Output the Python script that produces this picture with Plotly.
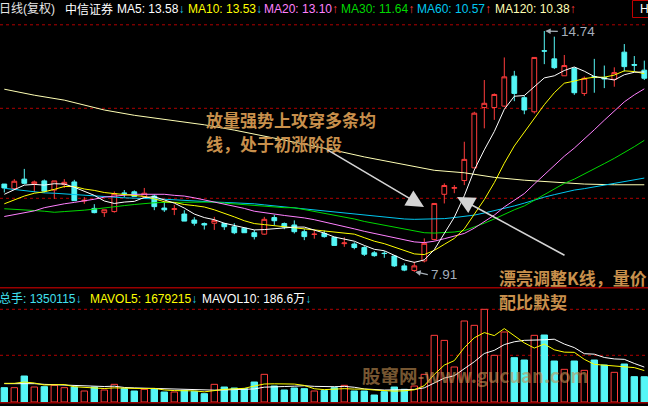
import plotly.graph_objects as go

# ---------------- data ----------------
idx = list(range(65))

opens = [10.40, 10.27, 10.54, 10.41, 10.49, 10.23, 10.39, 10.46, 9.92, 9.71,
         9.59, 9.62, 10.15, 10.18, 10.04, 10.06, 9.72, 9.68, 9.55, 9.38,
         9.28, 9.29, 9.28, 9.19, 9.15, 9.02, 8.98, 9.45, 9.28, 9.24,
         9.05, 8.97, 9.00, 8.89, 8.71, 8.70, 8.60, 8.45, 8.44, 8.36,
         8.08, 7.95, 8.22, 8.83, 10.11, 10.28, 10.50, 10.86, 12.57, 12.57,
         12.61, 13.46, 12.85, 12.45, 14.18, 13.95, 13.47, 13.68, 12.97, 13.45,
         13.42, 13.37, 14.14, 13.79, 13.63]
highs = [10.40, 10.54, 10.83, 10.50, 10.53, 10.49, 10.54, 10.52, 10.03, 9.83,
         9.67, 10.19, 10.23, 10.22, 10.29, 10.10, 9.90, 9.81, 9.66, 9.46,
         9.31, 9.47, 9.30, 9.29, 9.15, 9.10, 9.47, 9.53, 9.31, 9.37,
         9.12, 9.08, 9.08, 8.89, 8.89, 8.75, 8.64, 8.50, 8.50, 8.38,
         8.15, 8.20, 8.86, 9.85, 10.42, 10.37, 11.60, 12.45, 13.35, 12.97,
         13.99, 13.61, 12.90, 13.99, 14.74, 14.58, 14.06, 13.71, 13.45, 13.95,
         13.76, 13.71, 14.37, 14.03, 13.90]
lows = [10.16, 10.27, 10.39, 10.17, 10.16, 9.98, 10.29, 9.93, 9.84, 9.57,
        9.47, 9.59, 10.02, 10.05, 10.04, 9.66, 9.61, 9.52, 9.35, 9.22,
        9.11, 9.10, 9.10, 8.98, 9.02, 8.83, 8.96, 9.24, 9.12, 9.00,
        8.81, 8.85, 8.88, 8.66, 8.62, 8.55, 8.36, 8.34, 8.31, 8.05,
        7.93, 7.91, 8.18, 8.80, 9.85, 10.14, 10.37, 10.85, 11.98, 12.22,
        12.59, 12.75, 12.38, 12.40, 13.80, 13.66, 13.47, 12.93, 12.90, 12.99,
        13.12, 13.16, 13.59, 13.59, 13.35]
closes = [10.29, 10.48, 10.42, 10.46, 10.20, 10.49, 10.45, 9.93, 9.94, 9.59,
          9.67, 10.13, 10.13, 10.05, 10.14, 9.76, 9.67, 9.70, 9.35, 9.29,
          9.24, 9.37, 9.19, 9.02, 9.02, 8.91, 9.40, 9.36, 9.18, 9.05,
          8.91, 8.98, 8.91, 8.66, 8.73, 8.60, 8.41, 8.37, 8.43, 8.08,
          7.96, 8.08, 8.72, 9.85, 10.36, 10.30, 11.10, 12.41, 12.69, 12.94,
          13.44, 12.97, 12.50, 13.99, 14.17, 13.70, 13.76, 12.99, 13.40, 13.42,
          13.38, 13.56, 13.73, 13.77, 13.40]

ma5 = [10.11, 10.23, 10.37, 10.39, 10.37, 10.41, 10.40, 10.31, 10.20, 10.08,
       9.92, 9.85, 9.89, 9.91, 10.02, 10.04, 9.95, 9.86, 9.72, 9.55,
       9.45, 9.39, 9.29, 9.22, 9.17, 9.10, 9.11, 9.14, 9.17, 9.18,
       9.18, 9.10, 9.01, 8.90, 8.84, 8.78, 8.66, 8.55, 8.51, 8.38,
       8.25, 8.18, 8.25, 8.54, 8.99, 9.46, 10.07, 10.80, 11.37, 11.89,
       12.52, 12.89, 12.91, 13.17, 13.41, 13.47, 13.62, 13.72, 13.60, 13.45,
       13.39, 13.35, 13.50, 13.57, 13.58]
ma10 = [9.84, 9.95, 10.06, 10.14, 10.18, 10.25, 10.33, 10.33, 10.26, 10.22,
        10.16, 10.13, 10.10, 10.06, 10.05, 9.98, 9.90, 9.88, 9.82, 9.79,
        9.75, 9.67, 9.58, 9.47, 9.36, 9.28, 9.25, 9.22, 9.20, 9.17,
        9.14, 9.10, 9.07, 9.04, 9.01, 8.98, 8.88, 8.78, 8.71, 8.61,
        8.51, 8.42, 8.40, 8.52, 8.69, 8.86, 9.13, 9.53, 9.96, 10.44,
        10.99, 11.48, 11.86, 12.27, 12.65, 12.99, 13.26, 13.32, 13.39, 13.43,
        13.43, 13.49, 13.61, 13.59, 13.53]
ma20 = [9.48, 9.54, 9.60, 9.64, 9.73, 9.79, 9.84, 9.88, 9.92, 9.97,
        10.03, 10.06, 10.09, 10.11, 10.11, 10.11, 10.11, 10.08, 10.06, 10.01,
        9.95, 9.90, 9.84, 9.77, 9.71, 9.63, 9.58, 9.55, 9.51, 9.48,
        9.44, 9.39, 9.33, 9.26, 9.19, 9.13, 9.06, 9.00, 8.95, 8.89,
        8.83, 8.76, 8.74, 8.78, 8.85, 8.92, 9.00, 9.15, 9.33, 9.52,
        9.75, 9.95, 10.13, 10.40, 10.67, 10.92, 11.19, 11.42, 11.67, 11.94,
        12.21, 12.48, 12.73, 12.93, 13.10]
ma30 = [9.70, 9.69, 9.66, 9.65, 9.63, 9.60, 9.62, 9.63, 9.66, 9.69,
        9.73, 9.76, 9.79, 9.82, 9.85, 9.87, 9.88, 9.88, 9.89, 9.90,
        9.90, 9.89, 9.86, 9.84, 9.81, 9.78, 9.76, 9.74, 9.73, 9.73,
        9.68, 9.63, 9.58, 9.52, 9.47, 9.41, 9.34, 9.29, 9.24, 9.19,
        9.13, 9.07, 9.02, 9.01, 9.02, 9.04, 9.08, 9.18, 9.29, 9.41,
        9.55, 9.67, 9.78, 9.94, 10.12, 10.28, 10.42, 10.54, 10.68, 10.83,
        10.98, 11.13, 11.29, 11.46, 11.64]
ma60 = [10.28, 10.25, 10.20, 10.17, 10.15, 10.14, 10.12, 10.11, 10.09, 10.06,
        10.03, 10.03, 10.01, 10.00, 10.00, 9.98, 9.97, 9.95, 9.93, 9.91,
        9.90, 9.89, 9.88, 9.87, 9.86, 9.84, 9.81, 9.78, 9.75, 9.72,
        9.69, 9.67, 9.64, 9.61, 9.58, 9.55, 9.52, 9.49, 9.46, 9.43,
        9.41, 9.40, 9.40, 9.41, 9.42, 9.45, 9.48, 9.52, 9.58, 9.64,
        9.71, 9.78, 9.86, 9.95, 10.03, 10.10, 10.17, 10.23, 10.27, 10.32,
        10.36, 10.40, 10.46, 10.52, 10.57]
ma120_idx = [0, 3, 6, 10, 13, 16, 20, 23, 26, 30, 33, 36, 40, 43, 46, 49, 52, 55, 58, 61, 64]
ma120 = [13.09, 12.92, 12.78, 12.50, 12.35, 12.24, 12.08, 11.93, 11.76, 11.54,
         11.36, 11.17, 10.95, 10.79, 10.72, 10.59, 10.51, 10.45, 10.40, 10.38, 10.38]

volume = [765000, 765000, 1388000, 801000, 819000, 890000, 765000, 801000, 587000, 801000,
          641000, 943000, 712000, 587000, 676000, 712000, 534000, 534000, 623000, 570000,
          445000, 943000, 801000, 748000, 712000, 1068000, 1477000, 854000, 641000, 748000,
          712000, 587000, 610000, 765000, 890000, 587000, 587000, 374000, 552000, 801000,
          676000, 854000, 1477000, 3560000, 3290000, 1869000, 4325000, 4094000, 4948000, 2492000,
          3738000, 2367000, 2243000, 3560000, 3578000, 2189000, 1744000, 2189000, 1691000, 2243000,
          1976000, 1584000, 2029000, 1353000, 1350115]
mavol5 = [997000, 997000, 1068000, 1015000, 908000, 933000, 933000, 815000, 772000, 769000,
          719000, 755000, 737000, 737000, 712000, 726000, 644000, 609000, 616000, 595000,
          541000, 623000, 676000, 701000, 730000, 854000, 961000, 972000, 950000, 958000,
          886000, 708000, 660000, 684000, 713000, 688000, 688000, 641000, 598000, 580000,
          598000, 651000, 872000, 1474000, 1971000, 2210000, 2904000, 3428000, 3706000, 3546000,
          3920000, 3528000, 3158000, 2880000, 3097000, 2787000, 2662000, 2652000, 2278000, 2011000,
          1969000, 1937000, 1905000, 1837000, 1679215]
mavol10 = [979000, 979000, 1015000, 979000, 943000, 925000, 908000, 908000, 890000, 838000,
           826000, 844000, 776000, 755000, 740000, 723000, 699000, 673000, 676000, 653000,
           634000, 634000, 643000, 659000, 662000, 698000, 792000, 824000, 826000, 844000,
           870000, 835000, 816000, 817000, 835000, 787000, 698000, 650000, 641000, 647000,
           643000, 670000, 756000, 1036000, 1276000, 1404000, 1778000, 2150000, 2590000, 2759000,
           3065000, 3216000, 3293000, 3293000, 3321000, 3353000, 3095000, 2905000, 2579000, 2554000,
           2378000, 2300000, 2278000, 2058000, 1866000]

stock_name = "中信证券"
period_label = "日线(复权)"
header_arrows = ["↓", "↓", "↑", "↑", "↑", "↑"]
vol_arrows = ["↓", "↓", "↓"]
note_1 = ["放量强势上攻穿多条均", "线，处于初涨阶段"]
note_2 = ["漂亮调整K线，量价", "配比默契"]
watermark = "股窜网-www.gucuan.com"

# ---------------- styling ----------------
W, H = 648, 406
RED = "#ff3c3c"
CYAN = "#54f6f6"
C_MA5, C_MA10, C_MA20, C_MA30, C_MA60, C_MA120 = "#ffffff", "#ffff00", "#ff80ff", "#00d800", "#00c8f0", "#ffffb4"
GRID = "#b00000"
TAN = "#c8904c"
FONT = "Liberation Sans, Arial, Noto Sans CJK SC, sans-serif"
CJK = "Noto Sans CJK SC, sans-serif"


def fx(px):
    return px / W


def fy(py):
    return 1 - py / H


fig = go.Figure()

fig.add_trace(go.Candlestick(
    x=idx, open=opens, high=highs, low=lows, close=closes,
    increasing=dict(line=dict(color=RED, width=1), fillcolor="#000000"),
    decreasing=dict(line=dict(color=CYAN, width=1), fillcolor=CYAN),
    whiskerwidth=0, hoverinfo="skip", xaxis="x", yaxis="y"))

fig.add_trace(go.Scatter(x=ma120_idx, y=ma120, mode="lines",
                         line=dict(color=C_MA120, width=1), hoverinfo="skip",
                         xaxis="x", yaxis="y"))
for vals, col in [(ma60, C_MA60), (ma30, C_MA30), (ma20, C_MA20), (ma10, C_MA10), (ma5, C_MA5)]:
    fig.add_trace(go.Scatter(x=idx, y=vals, mode="lines",
                             line=dict(color=col, width=1), hoverinfo="skip",
                             xaxis="x", yaxis="y"))

up = [c >= o for o, c in zip(opens, closes)]
fig.add_trace(go.Bar(
    x=idx, y=volume, width=0.64,
    marker=dict(color=["#000000" if u else CYAN for u in up],
                line=dict(color=[RED if u else CYAN for u in up], width=1)),
    hoverinfo="skip", xaxis="x", yaxis="y2"))
fig.add_trace(go.Scatter(x=idx, y=mavol10, mode="lines", line=dict(color="#ffffff", width=1),
                         hoverinfo="skip", xaxis="x", yaxis="y2"))
fig.add_trace(go.Scatter(x=idx, y=mavol5, mode="lines", line=dict(color="#ffff00", width=1),
                         hoverinfo="skip", xaxis="x", yaxis="y2"))

# ---------------- grid / frame lines ----------------
shapes = []
for py in [24.8, 108.3, 198.3, 309.3, 355.3]:
    shapes.append(dict(type="line", xref="paper", yref="paper", x0=0, x1=1, y0=fy(py), y1=fy(py),
                       line=dict(color=GRID, width=1, dash="dot"), layer="below"))
for py in [287.8, 402.8]:
    shapes.append(dict(type="line", xref="paper", yref="paper", x0=0, x1=1, y0=fy(py), y1=fy(py),
                       line=dict(color="#9a0000", width=1.5), layer="above"))
shapes.append(dict(type="rect", xref="paper", yref="paper", x0=fx(632.5), x1=fx(652), y0=fy(17.5), y1=fy(0.5),
                   line=dict(color="#c00000", width=1)))

ann = []


def text(px, py, s, color, size=12, family=FONT, anchor="left"):
    ann.append(dict(xref="paper", yref="paper", x=fx(px), y=fy(py), text=s, showarrow=False,
                    xanchor=anchor, yanchor="middle", font=dict(color=color, size=size, family=family)))


def arrow_span(a):
    col = RED if a == "↑" else "#1ec8e6"
    return f'<span style="color:{col}">{a}</span>'


# header row
text(-3, 9, period_label, "#e6e6e6", 12, FONT)
text(63, 9, stock_name, "#ffffff", 12, FONT)
hdr = [("MA5", ma5[-1], C_MA5, 115), ("MA10", ma10[-1], C_MA10, 186), ("MA20", ma20[-1], C_MA20, 262),
       ("MA30", ma30[-1], C_MA30, 339), ("MA60", ma60[-1], C_MA60, 415), ("MA120", ma120[-1], C_MA120, 493)]
for (name, v, col, px), a in zip(hdr, header_arrows):
    text(px, 9, f"{name}: {v:.2f}{arrow_span(a)}", col, 12)
text(638, 9, "H", "#ffffff", 12)

# volume header row
text(-3, 299, f"总手: {volume[-1]}{arrow_span(vol_arrows[0])}", "#40e0f0", 12)
text(88, 299, f"MAVOL5: {mavol5[-1]}{arrow_span(vol_arrows[1])}", "#ffff00", 12)
text(200, 299, f"MAVOL10: {mavol10[-1] / 10000:.1f}万{arrow_span(vol_arrows[2])}", "#ffffff", 12)

# notes
text(204, 119, f"<b>{note_1[0]}</b>", TAN, 17, CJK)
text(204, 143.5, f"<b>{note_1[1]}</b>", TAN, 17, CJK)
text(497, 277.5, f"<b>{note_2[0]}</b>", TAN, 17, CJK)
text(497, 301, f"<b>{note_2[1]}</b>", TAN, 17, CJK)

# watermark
text(475, 375, f"<b>{watermark}</b>", "rgba(200,146,84,0.6)", 18.5, CJK, "center")

# big arrows
for tip, tail in [((424, 207), (326, 149)), ((457, 197), (566, 256))]:
    ann.append(dict(xref="paper", yref="paper", x=fx(tip[0]), y=fy(tip[1]), ax=tail[0] - tip[0],
                    ay=tail[1] - tip[1], text="", showarrow=True, arrowhead=2, arrowsize=2.2,
                    arrowwidth=1.6, arrowcolor="#d4d4d4", standoff=0))

# high / low markers
lo_i = lows.index(min(lows))
hi_i = highs.index(max(highs))
for i, val, off in [(lo_i, lows[lo_i], 3), (hi_i, highs[hi_i], 0.5)]:
    ann.append(dict(xref="x", yref="y", x=i + 0.1, y=val, ax=14, ay=off, text="", showarrow=True,
                    arrowhead=2, arrowsize=0.9, arrowwidth=1.2, arrowcolor="#a8b0b8", standoff=0))
    ann.append(dict(xref="x", yref="y", x=i + 1.45, y=val, yshift=-off, text=f"{val:.2f}", showarrow=False,
                    xanchor="left", yanchor="middle", font=dict(color="#a4aebb", size=13.5, family=FONT)))

fig.update_layout(
    width=W, height=H, margin=dict(l=0, r=0, t=0, b=0, pad=0),
    paper_bgcolor="#000000", plot_bgcolor="#000000", showlegend=False,
    boxgap=0.32, bargap=0, hovermode=False,
    xaxis=dict(range=[-0.43, 64.37], visible=False, showgrid=False, zeroline=False,
               rangeslider=dict(visible=False), fixedrange=True),
    yaxis=dict(domain=[1 - 288 / H, 1], range=[7.453, 15.619], visible=False, showgrid=False,
               zeroline=False, fixedrange=True),
    yaxis2=dict(domain=[1 - 402 / H, 1 - 288 / H], range=[0, 6087600], visible=False, showgrid=False,
                zeroline=False, fixedrange=True),
    shapes=shapes, annotations=ann,
)

fig.write_html("out.html", config={"displayModeBar": False, "staticPlot": True},
               post_script="document.body.style.margin='0';document.body.style.overflow='hidden';")
